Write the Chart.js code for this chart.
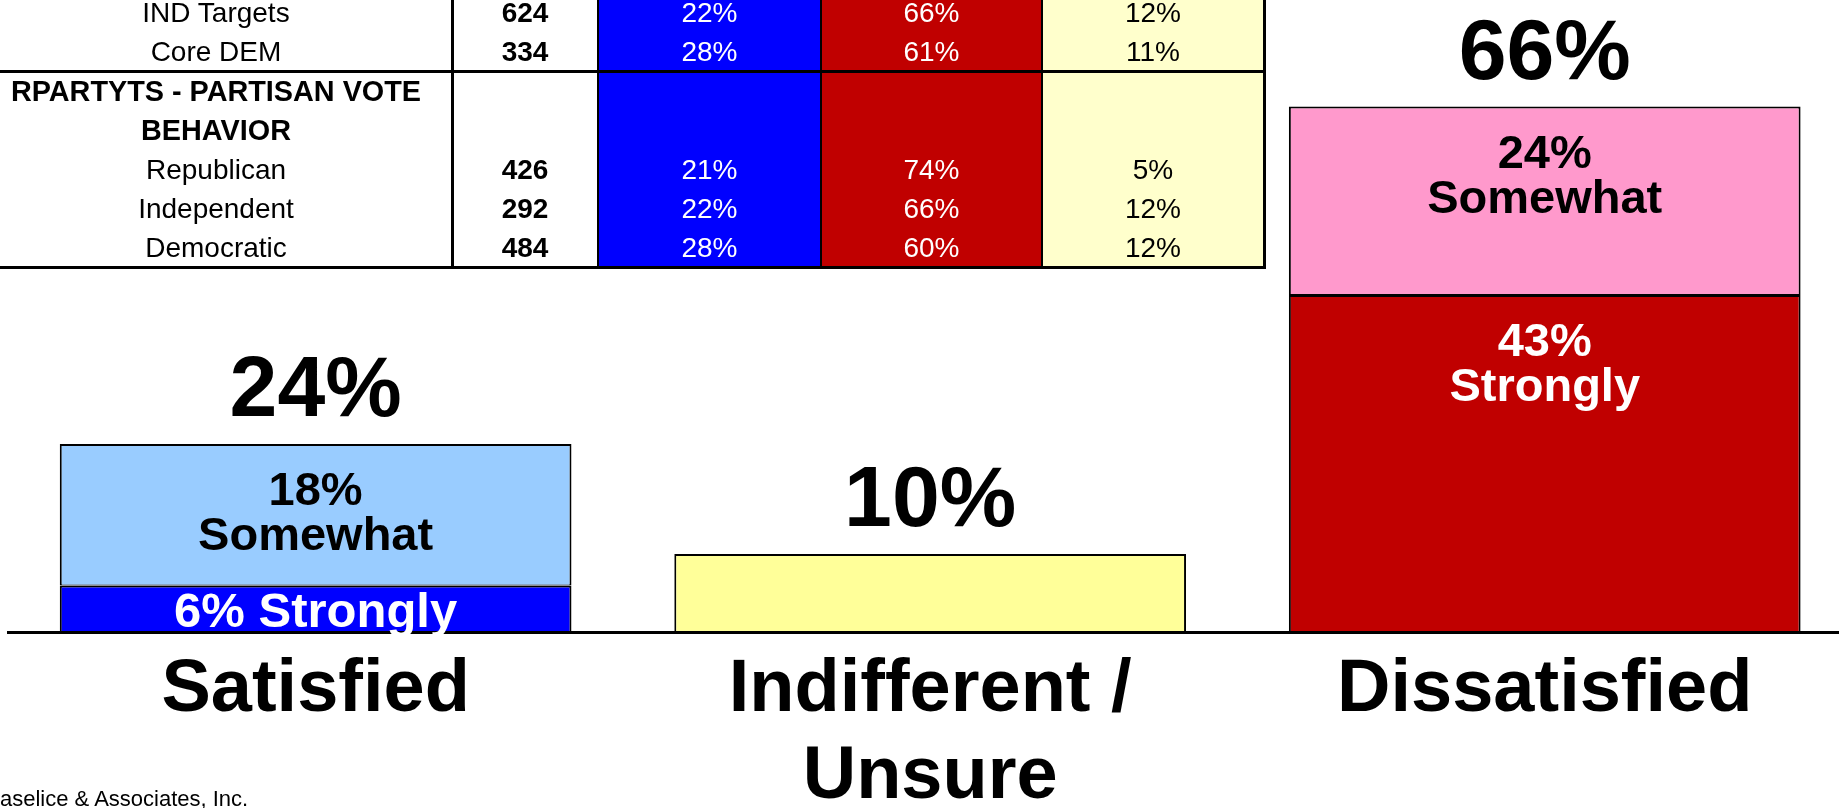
<!DOCTYPE html>
<html>
<head>
<meta charset="utf-8">
<script src="https://cdn.jsdelivr.net/npm/chart.js@4.4.1/dist/chart.umd.min.js"></script>
<style>
  html, body { margin: 0; padding: 0; background: #fff; overflow: hidden; width: 1839px; height: 808px; }
  #wrap { position: absolute; left: 0; top: 0; width: 1839px; height: 808px; overflow: hidden; }
  #c { position: absolute; left: 0; top: 0; }
  #tbl { position: absolute; left: 0; top: 0; width: 1270px; height: 270px; font-family: "Liberation Sans", Arial, sans-serif; }
  .cell { position: absolute; display: flex; align-items: center; justify-content: center; text-align: center;
          font-size: 28px; line-height: 39px; box-sizing: border-box; padding: 0 6px; }
  .ln { position: absolute; background: #000; }
  #foot { position: absolute; left: -14.7px; top: 788px; font: 22px/22px "Liberation Sans", Arial, sans-serif; color: #000; white-space: nowrap; }
</style>
</head>
<body>
<div id="wrap">
  <canvas id="c" width="1852" height="808"></canvas>
  <div id="tbl"></div>
  <div id="foot">Baselice &amp; Associates, Inc.</div>
</div>
<script>
// ---------------- DATA ----------------
const categories = ['Satisfied', ['Indifferent /', 'Unsure'], 'Dissatisfied'];
const strongly = [6, null, 43];
const unsure = [null, 10, null];
const somewhat = [18, null, 24];
const totalLabels = [24, 10, 66];

const tableGroups = ['IND Targets', 'Core DEM', 'RPARTYTS - PARTISAN VOTE BEHAVIOR', 'Republican', 'Independent', 'Democratic'];
const tableN = [624, 334, null, 426, 292, 484];
const tableSatisfied = [22, 28, null, 21, 22, 28];
const tableDissatisfied = [66, 61, null, 74, 66, 60];
const tableUnsure = [12, 11, null, 5, 12, 12];

// ---------------- TABLE (HTML) ----------------
(function buildTable() {
  const host = document.getElementById('tbl');
  const colEdges = [0, 452, 598, 821, 1042, 1264];
  const colFill = [null, null, '#0000FF', '#C00000', '#FFFFCC'];
  const colColor = ['#000', '#000', '#fff', '#fff', '#000'];
  const colWeight = ['normal', 'bold', 'normal', 'normal', 'normal'];
  const ROW_H = 39;
  let y = -7;
  const rules = [];
  const pct = v => (v == null ? '' : v + '%');
  tableGroups.forEach((g, r) => {
    const isHeader = tableN[r] == null;
    if (isHeader) { rules.push(y); y += 1; }
    const h = isHeader ? ROW_H * 2 : ROW_H;
    const vals = [g, tableN[r] == null ? '' : String(tableN[r]), pct(tableSatisfied[r]), pct(tableDissatisfied[r]), pct(tableUnsure[r])];
    vals.forEach((v, c) => {
      const d = document.createElement('div');
      d.className = 'cell';
      d.style.left = colEdges[c] + 'px';
      d.style.width = (colEdges[c + 1] - colEdges[c]) + 'px';
      d.style.top = y + 'px';
      d.style.height = h + 'px';
      if (c === 0) { d.style.paddingLeft = '0px'; d.style.paddingRight = '20px'; }
      if (colFill[c]) d.style.background = colFill[c];
      d.style.color = colColor[c];
      d.style.fontWeight = (c === 0 && isHeader) ? 'bold' : colWeight[c];
      if (c === 0 && isHeader) d.style.fontSize = '28.8px';
      d.textContent = v;
      host.appendChild(d);
    });
    y += h;
  });
  rules.push(y);
  rules.forEach(ry => {
    const l = document.createElement('div');
    l.className = 'ln';
    l.style.left = '0px'; l.style.width = '1266px';
    l.style.top = (ry - 1.5) + 'px'; l.style.height = '3px';
    host.appendChild(l);
  });
  const vlines = [[452, 3], [598, 2], [821, 2], [1042, 2], [1264, 3]];
  vlines.forEach(([x, w]) => {
    const l = document.createElement('div');
    l.className = 'ln';
    l.style.left = (x - w / 2) + 'px'; l.style.width = w + 'px';
    l.style.top = '0px'; l.style.height = (y + 1.5) + 'px';
    host.appendChild(l);
  });
})();

// ---------------- CHART ----------------
const FONT = '"Liberation Sans", Arial, sans-serif';

const labelPlugin = {
  id: 'segLabels',
  afterDraw(chart) {
    const ctx = chart.ctx;
    ctx.save();
    ctx.textAlign = 'center';
    ctx.textBaseline = 'alphabetic';
    const ds = chart.data.datasets;
    // totals above the stacks
    categories.forEach((c, i) => {
      let top = Infinity, x = null;
      ds.forEach((d, k) => {
        const el = chart.getDatasetMeta(k).data[i];
        if (d.data[i] != null && el) { top = Math.min(top, el.y); x = el.x; }
      });
      if (x == null) return;
      ctx.font = 'bold 86px ' + FONT;
      ctx.fillStyle = '#000';
      ctx.fillText(totalLabels[i] + '%', x, top - 28);
    });
    // segment labels
    ds.forEach((d, k) => {
      if (!d.segName) return;
      const meta = chart.getDatasetMeta(k);
      d.data.forEach((v, i) => {
        if (v == null) return;
        const el = meta.data[i];
        const h = el.base - el.y;
        ctx.fillStyle = d.textColor;
        if (h > 100) {
          ctx.font = 'bold 47px ' + FONT;
          ctx.fillText(v + '%', el.x, el.y + 61);
          ctx.fillText(d.segName, el.x, el.y + 106);
        } else {
          ctx.font = 'bold 49px ' + FONT;
          ctx.fillText(v + '% ' + d.segName, el.x, (el.y + el.base) / 2 + 18);
        }
      });
    });
    ctx.restore();
  }
};

new Chart(document.getElementById('c'), {
  type: 'bar',
  data: {
    labels: categories,
    datasets: [
      {
        label: 'Strongly', segName: 'Strongly', textColor: '#fff',
        data: strongly,
        backgroundColor: ['#0000FF', '#0000FF', '#C00000'],
        borderColor: '#000',
        borderWidth: { top: 2, left: 2, right: 2, bottom: 0 },
        borderSkipped: false
      },
      {
        label: 'Indifferent / Unsure',
        data: unsure,
        backgroundColor: '#FFFF99',
        borderColor: '#000',
        borderWidth: { top: 2, left: 2, right: 2, bottom: 0 },
        borderSkipped: false
      },
      {
        label: 'Somewhat', segName: 'Somewhat', textColor: '#000',
        data: somewhat,
        backgroundColor: ['#99CCFF', '#99CCFF', '#FF99CC'],
        borderColor: '#000',
        borderWidth: { top: 2, left: 2, right: 2, bottom: 1 },
        borderSkipped: false
      }
    ]
  },
  options: {
    responsive: false,
    animation: false,
    devicePixelRatio: 1,
    layout: { padding: { left: 8.35, top: 4.5, right: 0, bottom: 0 } },
    datasets: { bar: { barPercentage: 0.8327, categoryPercentage: 1 } },
    plugins: { legend: { display: false }, tooltip: { enabled: false } },
    scales: {
      x: {
        stacked: true,
        grid: { display: false, drawTicks: false },
        border: { display: true, color: '#000', width: 3, z: 1 },
        ticks: {
          color: '#000',
          font: { family: FONT, size: 74, weight: 'bold', lineHeight: 1.176 },
          padding: 14.4,
          maxRotation: 0, minRotation: 0, autoSkip: false
        },
        afterFit: (scale) => { scale.height = 175.5; }
      },
      y: {
        stacked: true,
        display: false,
        min: 0,
        max: 80
      }
    }
  },
  plugins: [labelPlugin]
});
</script>
</body>
</html>
